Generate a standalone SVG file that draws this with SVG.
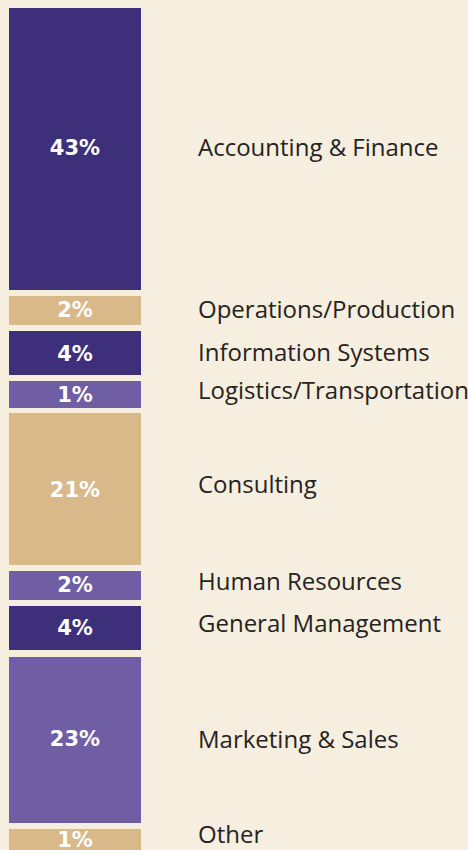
<svg xmlns="http://www.w3.org/2000/svg" width="468" height="850" viewBox="0 0 468 850">
<style>
.bg{fill:#F6EEDF}
.dark{fill:#3E2F7B}
.tan{fill:#D9B88A}
.mid{fill:#6F5EA3}
.pct{font-family:"DejaVu Sans",sans-serif;font-weight:bold;font-size:21px;fill:#FFFFFF;text-anchor:middle}
.lbl{font-family:"Open Sans","Noto Sans",sans-serif;font-size:24px;fill:#262222}
</style>
<rect class="bg" x="0" y="0" width="468" height="850"/>
<g id="accounting"><rect class="dark" x="9" y="8" width="132" height="282"/><text class="pct" x="75" y="155">43%</text><text class="lbl" x="198" y="156">Accounting &amp; Finance</text></g>
<g id="operations"><rect class="tan" x="9" y="296" width="132" height="29"/><text class="pct" x="75" y="317">2%</text><text class="lbl" x="198" y="318">Operations/Production</text></g>
<g id="infosys"><rect class="dark" x="9" y="331" width="132" height="44"/><text class="pct" x="75" y="361">4%</text><text class="lbl" x="198" y="361">Information Systems</text></g>
<g id="logistics"><rect class="mid" x="9" y="381" width="132" height="27"/><text class="pct" x="75" y="402">1%</text><text class="lbl" x="198" y="399">Logistics/Transportation</text></g>
<g id="consulting"><rect class="tan" x="9" y="413" width="132" height="152"/><text class="pct" x="75" y="497">21%</text><text class="lbl" x="198" y="493">Consulting</text></g>
<g id="hr"><rect class="mid" x="9" y="571" width="132" height="29"/><text class="pct" x="75" y="592">2%</text><text class="lbl" x="198" y="590">Human Resources</text></g>
<g id="genmgmt"><rect class="dark" x="9" y="606" width="132" height="44"/><text class="pct" x="75" y="635">4%</text><text class="lbl" x="198" y="632">General Management</text></g>
<g id="marketing"><rect class="mid" x="9" y="657" width="132" height="166"/><text class="pct" x="75" y="746">23%</text><text class="lbl" x="198" y="748">Marketing &amp; Sales</text></g>
<g id="other"><rect class="tan" x="9" y="829" width="132" height="21"/><text class="pct" x="75" y="847">1%</text><text class="lbl" x="198" y="843">Other</text></g>
<g id="connectors"></g>
</svg>
